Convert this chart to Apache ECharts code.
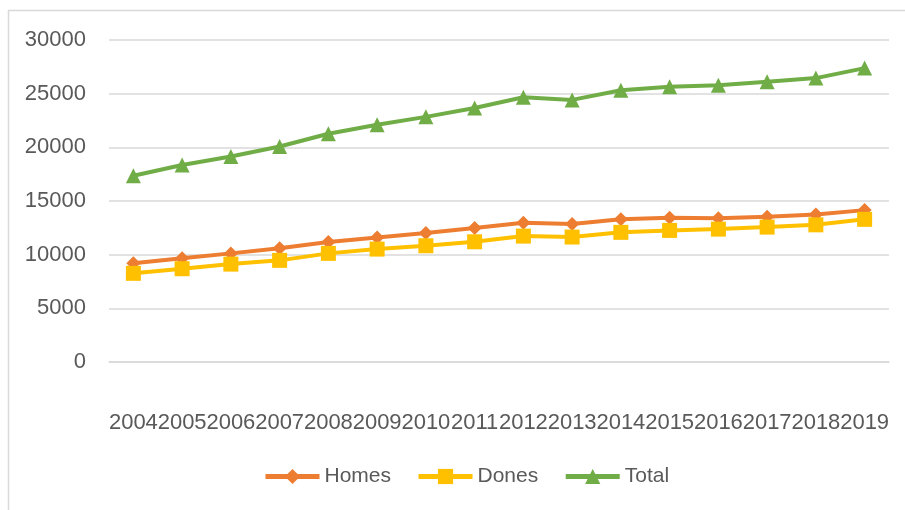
<!DOCTYPE html>
<html><head><meta charset="utf-8">
<script src="https://cdn.jsdelivr.net/npm/echarts@6/dist/echarts.min.js"></script>
<style>html,body{margin:0;padding:0;background:#fff}#c{width:905px;height:510px}</style>
</head><body><div id="c"></div>
<script>
const years = ['2004','2005','2006','2007','2008','2009','2010','2011','2012','2013','2014','2015','2016','2017','2018','2019'];
const homes = [9190, 9660, 10120, 10590, 11170, 11610, 12010, 12480, 12970, 12850, 13290, 13440, 13400, 13530, 13750, 14150];
const dones = [8260, 8690, 9120, 9470, 10120, 10520, 10830, 11200, 11730, 11640, 12080, 12260, 12380, 12570, 12780, 13290];
const total = [17350, 18350, 19150, 20080, 21270, 22110, 22840, 23660, 24660, 24420, 25320, 25650, 25790, 26100, 26450, 27380];
const yTicks = [0, 5000, 10000, 15000, 20000, 25000, 30000];

const FONT = '"Liberation Sans", Arial, sans-serif';
const TXT = '#595959';
const chart = echarts.init(document.getElementById('c'), null, {renderer: 'canvas'});
function ser(name, data, color, symbol, size) {
  return {
    name, type: 'line', data, symbol, symbolSize: size,
    itemStyle: {color}, lineStyle: {color, width: 4},
    animation: false
  };
}
chart.setOption({
  animation: false,
  backgroundColor: '#fff',
  textStyle: {fontFamily: FONT},
  graphic: [{type: 'rect', silent: true, shape: {x: 8.5, y: 10.5, width: 1000, height: 600},
    style: {fill: 'none', stroke: '#d9d9d9', lineWidth: 1.5}}],
  grid: {left: 109, right: 16, top: 40, bottom: 148, containLabel: false},
  legend: {
    data: ['Homes', 'Dones', 'Total'],
    top: 461, left: 258, itemWidth: 54, itemHeight: 19, itemGap: 25,
    lineStyle: {width: 5},
    textStyle: {color: TXT, fontSize: 21, fontFamily: FONT}
  },
  xAxis: {
    type: 'category', data: years, boundaryGap: true,
    axisLine: {lineStyle: {color: '#d9d9d9', width: 1.5}},
    axisTick: {show: false},
    axisLabel: {interval: 0, color: TXT, fontSize: 22, fontFamily: FONT, margin: 50, hideOverlap: false}
  },
  yAxis: {
    type: 'value', min: yTicks[0], max: yTicks[yTicks.length - 1], interval: yTicks[1] - yTicks[0],
    axisLine: {show: false}, axisTick: {show: false},
    splitLine: {lineStyle: {color: '#d9d9d9', width: 1.5}},
    axisLabel: {color: TXT, fontSize: 22, fontFamily: FONT, margin: 23, formatter: v => String(v)}
  },
  series: [
    ser('Homes', homes, '#ED7D31', 'diamond', 14),
    ser('Dones', dones, '#FFC000', 'rect', 15),
    ser('Total', total, '#70AD47', 'triangle', 15)
  ]
});
</script></body></html>
